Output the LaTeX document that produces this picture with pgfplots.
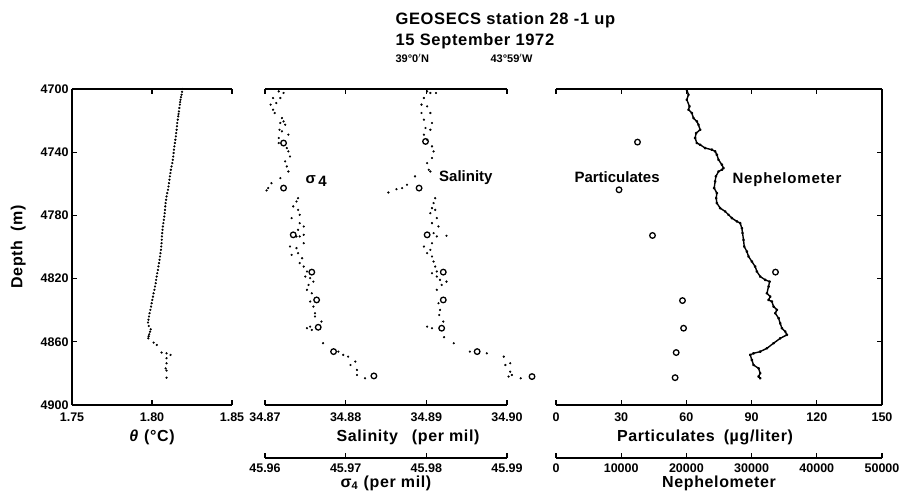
\documentclass[border=0pt]{standalone}
\usepackage{fontspec}
\setmainfont{Liberation Sans}
\newfontfamily\spaced[LetterSpace=4]{Liberation Sans}
\usepackage{pgfplots}
\pgfplotsset{compat=1.18}
\newcommand{\tk}{\bfseries\fontsize{12.5}{13}\selectfont}
\newcommand{\lb}{\spaced\bfseries\fontsize{16}{17}\selectfont}
\pgfplotsset{
 /pgf/number format/1000 sep={},
 panel/.style={scale only axis, height=316pt, anchor=south west, y dir=reverse,
   ymin=4700, ymax=4900, ytick={4700,4740,...,4900}, clip=false,
   tick align=inside, major tick length=5pt,
   axis line style={line width=1.3pt}, every tick/.style={black, line width=1.3pt},
   tick label style={font=\tk}, /pgf/number format/assume math mode=true,
   label style={font=\lb}, separate axis lines, scaled ticks=false,
   xticklabel shift=4pt, xlabel shift=2pt},
 scalebar/.style={scale only axis, height=15pt, anchor=south west,
   axis x line*=bottom, hide y axis, ymin=0, ymax=1, tick align=inside,
   major tick length=5pt, axis line style={line width=1.3pt},
   every tick/.style={black, line width=1.3pt}, tick label style={font=\tk},
   /pgf/number format/assume math mode=true, label style={font=\lb}, scaled ticks=false,
   xticklabel shift=2pt, xlabel shift=-3pt},
 overlay/.style={scale only axis, height=316pt, anchor=south west, y dir=reverse,
   ymin=4700, ymax=4900, hide axis, clip=false},
 dots/.style={only marks, mark=*, mark size=0.9pt, black},
 circ/.style={only marks, mark=o, mark size=2.8pt, black, mark options={line width=1.3pt, fill=white}},
}
\begin{document}
\begin{tikzpicture}[x=1pt,y=1pt]
\path[use as bounding box] (0,0) rectangle (900,498);
% titles
\node[anchor=west, font=\spaced\bfseries\fontsize{16.5}{18}\selectfont] at (392,478) {GEOSECS station 28 -1 up};
\node[anchor=west, font=\spaced\bfseries\fontsize{16.5}{18}\selectfont] at (392,457) {15 September 1972};
\node[anchor=west, font=\bfseries\fontsize{11}{12}\selectfont] at (392,440) {39°0$'$N};
\node[anchor=west, font=\bfseries\fontsize{11}{12}\selectfont] at (487,440) {43°59$'$W};

% ---------- left panel: theta ----------
\begin{axis}[panel, at={(72pt,93pt)}, width=160pt,
  axis x line*=box, axis y line*=left,
  xmin=1.75, xmax=1.85, xtick={1.75,1.80,1.85},
  xticklabel style={/pgf/number format/.cd, fixed, fixed zerofill, precision=2},
  xlabel={\textit{θ} (°C)}, ylabel={Depth\hspace{9pt}(m)}, ylabel shift=8pt]
\addplot[dots] coordinates {
(1.8191,4700) (1.8188,4701.8) (1.8185,4703.6) (1.8181,4705.2) (1.8178,4706.8) (1.8176,4708.3)
(1.8174,4709.9) (1.8171,4712) (1.8168,4714.2) (1.8166,4715.8) (1.8164,4717.3) (1.8161,4719.4)
(1.8158,4721.5) (1.8156,4723.6) (1.8154,4725.8) (1.8151,4727.9) (1.8149,4730) (1.8146,4732.1)
(1.8143,4734.2) (1.8140,4736.3) (1.8137,4738.4) (1.8135,4740.5) (1.8133,4742.7) (1.8130,4744.8)
(1.8127,4746.9) (1.8122,4749) (1.8118,4751.1) (1.8115,4753.2) (1.8112,4755.3) (1.8109,4757.4)
(1.8106,4759.6) (1.8103,4761.7) (1.8100,4763.8) (1.8095,4765.9) (1.8091,4768) (1.8088,4770.1)
(1.8085,4772.2) (1.8083,4774.3) (1.8081,4776.5) (1.8079,4778.6) (1.8077,4780.7) (1.8074,4782.8)
(1.8071,4784.9) (1.8068,4787) (1.8066,4789.1) (1.8064,4791.2) (1.8062,4793.3) (1.8061,4795.4)
(1.8060,4797.6) (1.8058,4799.7) (1.8056,4801.8) (1.8053,4803.9) (1.8050,4806) (1.8047,4808.1)
(1.8044,4810.2) (1.8040,4812.3) (1.8037,4814.5) (1.8033,4816.6) (1.8029,4818.7) (1.8026,4820.8)
(1.8023,4822.9) (1.8019,4825) (1.8015,4827.1) (1.8010,4829.3) (1.8006,4831.4) (1.8002,4833.5)
(1.7998,4835.6) (1.7994,4837.7) (1.7990,4839.8) (1.7985,4841.9) (1.7981,4844) (1.7978,4846)
(1.7975,4847.8) (1.7980,4850) (1.7992,4852.1) (1.7988,4853.6) (1.7983,4855.2) (1.7979,4856.5)
(1.7977,4857.8) (1.8010,4860.5) (1.8030,4862) (1.8060,4866.8) (1.8091,4867.3) (1.8116,4868.3)
(1.8091,4870.4) (1.8091,4873.6) (1.8085,4876.8) (1.8091,4878.2) (1.8091,4882.7)
};
\end{axis}

% ---------- middle panel: salinity ----------
\begin{axis}[panel, at={(265pt,93pt)}, width=242pt,
  axis x line*=box, axis y line=none, ytick=\empty,
  xmin=34.87, xmax=34.90, xtick={34.87,34.88,34.89,34.90},
  xticklabel style={/pgf/number format/.cd, fixed, fixed zerofill, precision=2},
  xlabel={Salinity\hspace{14pt}(per mil)}, xlabel style={xshift=22pt}]
\addplot[dots] coordinates {
(34.8901,4701.5) (34.8905,4702.5) (34.8912,4702.5) (34.8897,4705.7) (34.8894,4709.9) (34.8901,4711)
(34.8894,4715.2) (34.8905,4715.2) (34.8897,4719.4) (34.8907,4721.5) (34.8899,4724.7) (34.8905,4725.8)
(34.8897,4728.9) (34.8901,4732.1) (34.8907,4736.3) (34.8909,4739.5) (34.8907,4743.7) (34.8901,4746.9)
(34.8903,4751.1) (34.8905,4752.2) (34.8886,4755.3) (34.8876,4760.6) (34.8870,4762.7) (34.8863,4763.4)
(34.8853,4765.5) (34.8911,4769.1) (34.8909,4772.2) (34.8907,4775.4) (34.8911,4776.5) (34.8905,4778.6)
(34.8913,4781.7) (34.8907,4784.9) (34.8915,4787) (34.8909,4791.2) (34.8913,4793.3) (34.8925,4792.9)
(34.8907,4797.6) (34.8897,4799.7) (34.8905,4801.8) (34.8901,4803.9) (34.8907,4806) (34.8909,4809.2)
(34.8911,4812.4) (34.8913,4815.5) (34.8907,4816.6) (34.8913,4818.7) (34.8917,4820.8) (34.8925,4821.9)
(34.8919,4824) (34.8913,4827.1) (34.8915,4835.6) (34.8917,4839.8) (34.8916,4843) (34.8921,4847.2)
(34.8901,4850.4) (34.8907,4851.4) (34.8922,4857.1) (34.8934,4860.9) (34.8954,4866.2) (34.8975,4867.3)
(34.8996,4869.4) (34.8998,4874.7) (34.9004,4873.6) (34.9004,4878.9) (34.9002,4882) (34.9006,4881)
(34.9017,4883.1)
};
\addplot[circ] coordinates {
(34.8899,4733.2) (34.8891,4762.7) (34.8901,4792.3) (34.8921,4815.9)
(34.8921,4833.5) (34.8919,4851.4) (34.8963,4866.2) (34.9031,4882)
};
\node[font=\bfseries\fontsize{15}{16}\selectfont] at (axis cs:34.8949,4756.3) {Salinity};
\end{axis}

% sigma-4 data on the same frame
\begin{axis}[overlay, at={(265pt,93pt)}, width=242pt, xmin=45.96, xmax=45.99]
\addplot[dots] coordinates {
(45.9617,4701.5) (45.9623,4702.5) (45.9610,4705.7) (45.9619,4705.7) (45.9607,4709.9) (45.9614,4708.9)
(45.9610,4713.1) (45.9612,4715.2) (45.9621,4718.4) (45.9623,4720.5) (45.9619,4721.5) (45.9625,4722.6)
(45.9618,4725.8) (45.9621,4726.8) (45.9629,4728.9) (45.9617,4731) (45.9617,4734.2) (45.9627,4737.4)
(45.9629,4739.5) (45.9631,4742.7) (45.9625,4745.8) (45.9627,4749) (45.9629,4752.2) (45.9619,4756.4)
(45.9608,4759.6) (45.9604,4762.7) (45.9602,4764.2) (45.9641,4769.1) (45.9639,4771.2) (45.9635,4774.3)
(45.9641,4776.5) (45.9643,4779.6) (45.9633,4781.7) (45.9643,4784.9) (45.9648,4787) (45.9641,4789.1)
(45.9643,4793.3) (45.9648,4792.3) (45.9639,4793.3) (45.9648,4797.6) (45.9631,4799.7) (45.9639,4800.7)
(45.9641,4803.9) (45.9633,4805) (45.9646,4807.1) (45.9643,4810.2) (45.9648,4812.4) (45.9652,4815.5)
(45.9650,4818.7) (45.9656,4819.7) (45.9660,4821.9) (45.9654,4824) (45.9652,4827.1) (45.9658,4829.3)
(45.9656,4834.5) (45.9660,4837.7) (45.9662,4841.9) (45.9662,4844) (45.9670,4847.2) (45.9652,4851.4)
(45.9656,4850.4) (45.9658,4852.5) (45.9672,4860.9) (45.9691,4866.2) (45.9697,4868.3) (45.9703,4869.4)
(45.9712,4872.5) (45.9706,4874.7) (45.9714,4877.8) (45.9714,4881) (45.9724,4883.1)
};
\addplot[circ] coordinates {
(45.9623,4734.2) (45.9623,4762.7) (45.9635,4792.3) (45.9658,4815.9)
(45.9664,4833.5) (45.9666,4850.8) (45.9685,4866.2) (45.9735,4881.6)
};
\node[font=\bfseries\fontsize{15}{16}\selectfont, anchor=west] at (axis cs:45.9646,4758.5) {σ\,\raisebox{-3pt}{4}};
\end{axis}

% sigma-4 scale
\begin{axis}[scalebar, at={(265pt,40pt)}, width=242pt,
  xmin=45.96, xmax=45.99, xtick={45.96,45.97,45.98,45.99},
  xticklabel style={/pgf/number format/.cd, fixed, fixed zerofill, precision=2},
  xlabel={σ\raisebox{-2pt}{\fontsize{11}{11}\selectfont 4}\hspace{6pt}(per mil)}]
\end{axis}

% ---------- right panel: particulates ----------
\begin{axis}[panel, at={(556pt,93pt)}, width=326pt,
  axis x line*=box, axis y line*=right, yticklabels={},
  xmin=0, xmax=150, xtick={0,30,...,150},
  xlabel={Particulates\hspace{9pt}(µg/liter)}, xlabel style={xshift=-14pt}]
\addplot[circ] coordinates {
(37.5,4733.6) (29.0,4763.8) (44.4,4792.7) (101.0,4815.9)
(58.2,4833.9) (58.7,4851.4) (55.3,4866.8) (54.8,4882.7)
};
\node[font=\bfseries\fontsize{15}{16}\selectfont] at (axis cs:28.1,4755.7) {Particulates};
\node[font=\spaced\bfseries\fontsize{15}{16}\selectfont] at (axis cs:106.3,4757.6) {N\kern0.8pt e\kern0.8pt p\kern0.8pt h\kern0.8pt e\kern0.8pt l\kern0.8pt o\kern0.8pt m\kern0.8pt e\kern0.8pt t\kern0.8pt e\kern0.8pt r};
\end{axis}

% nephelometer data on the same frame
\begin{axis}[overlay, at={(556pt,93pt)}, width=326pt, xmin=0, xmax=50000]
\addplot[black, line width=1.4pt, line join=round, mark=*, mark size=0.7pt] coordinates {
(20060,4700.4) (20320,4703.6) (20060,4706.8) (20470,4711) (20320,4713.1) (20830,4715.2)
(21090,4718.4) (21600,4720.5) (21850,4722.6) (22110,4725.8) (21500,4727.9) (21340,4731)
(21600,4734.2) (22110,4735.3) (22880,4737.4) (23900,4738.4) (24410,4739.5) (24670,4741.6)
(24930,4744.8) (25440,4747.9) (25690,4750.1) (25440,4751.1) (24930,4752.2) (24520,4755.3)
(24410,4758.5) (24260,4762.7) (24670,4765.9) (24570,4769.1) (24670,4772.2) (25180,4775.4)
(25950,4777.5) (26460,4779.6) (26970,4781.7) (27740,4783.8) (28250,4784.9) (28510,4788.1)
(28610,4791.2) (28760,4795.5) (28870,4799.7) (29280,4802.9) (29530,4806) (30040,4809.2)
(30550,4812.4) (30810,4815.5) (31320,4818.7) (32090,4820.8) (32760,4821.9) (32600,4825)
(32350,4829.3) (32860,4831.4) (32600,4833.5) (33110,4834.5) (33370,4837.7) (33880,4839.8)
(33630,4841.9) (34140,4845.1) (34390,4848.3) (34650,4851.4) (35160,4853.5) (35420,4855.6)
(34390,4857.8) (33370,4860.9) (32350,4864.1) (31320,4866.2) (30300,4867.3) (29790,4868.3)
(30040,4871.5) (30300,4874.7) (31070,4876.8) (31320,4879.9) (31070,4882) (31320,4883.1)
};
\end{axis}

% nephelometer scale
\begin{axis}[scalebar, at={(556pt,40pt)}, width=326pt,
  xmin=0, xmax=50000, xtick={0,10000,...,50000},
  xlabel={Nephelometer}]
\end{axis}
\end{tikzpicture}
\end{document}
